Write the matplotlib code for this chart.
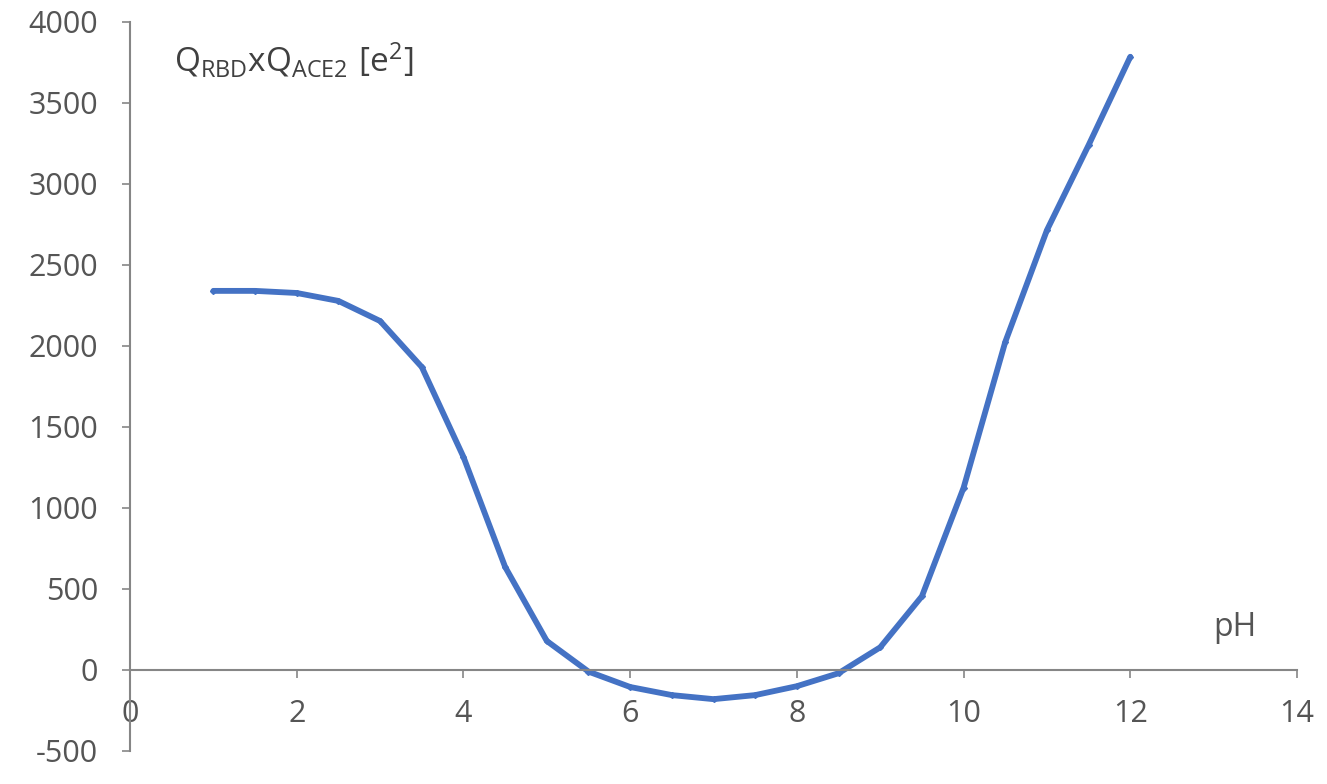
import matplotlib
matplotlib.use("Agg")
import matplotlib.pyplot as plt

ph = [1, 1.5, 2, 2.5, 3, 3.5, 4, 4.5, 5, 5.5, 6, 6.5, 7, 7.5, 8, 8.5, 9, 9.5, 10, 10.5, 11, 11.5, 12]
qq = [2340, 2340, 2327, 2278, 2154, 1870, 1315, 636, 179, -10, -105, -155, -180, -155, -100, -20, 140, 455, 1125, 2025, 2715, 3240, 3785]
x_ticks = [0, 2, 4, 6, 8, 10, 12, 14]
y_ticks = [-500, 0, 500, 1000, 1500, 2000, 2500, 3000, 3500, 4000]

plt.rcParams['font.family'] = ['Open Sans', 'DejaVu Sans']
plt.rcParams['axes.unicode_minus'] = False
plt.rcParams['mathtext.fontset'] = 'custom'
plt.rcParams['mathtext.rm'] = 'Open Sans'
grey = '#555555'

fig = plt.figure(figsize=(13.27, 7.84), dpi=100)
ax = fig.add_axes([0.0980, 0.0421, 0.8794, 0.9299])
ax.plot(ph, qq, color='#4472C4', lw=4.2, marker='D', ms=3, solid_capstyle='round',
        solid_joinstyle='round')
ax.set_xlim(0, 14)
ax.set_ylim(-500, 4000)
ax.set_xticks(x_ticks)
ax.set_yticks(y_ticks)
ax.spines['top'].set_visible(False)
ax.spines['right'].set_visible(False)
ax.spines['bottom'].set_position(('data', 0))
for s in ('left', 'bottom'):
    ax.spines[s].set_color('#868686')
    ax.spines[s].set_linewidth(1.5)
ax.tick_params(axis='both', colors='#868686', labelcolor=grey, labelsize=22, length=6, width=1.2)
ax.tick_params(axis='y', pad=17)
ax.tick_params(axis='x', pad=15)
ax.text(13.26, 260, 'pH', fontsize=23, color=grey, ha='center', va='center')
ax.text(0.53, 3765, r'$\mathregular{Q_{RBD}xQ_{ACE2}\ [e^2]}$', fontsize=24, color='#404040',
        ha='left', va='center')
fig.savefig('out.png', dpi=100)
